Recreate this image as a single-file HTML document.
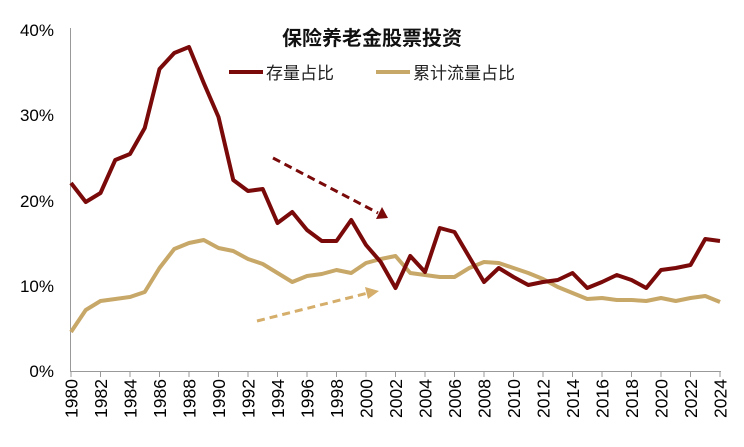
<!DOCTYPE html>
<html><head><meta charset="utf-8"><style>
body{margin:0;background:#fff}
svg{display:block}
text{font-family:"Liberation Sans","Noto Sans CJK SC",sans-serif}
</style></head><body>
<svg id="s" width="744" height="447" xmlns="http://www.w3.org/2000/svg">
<line x1="70.5" y1="28" x2="70.5" y2="371" stroke="#999" stroke-width="1"/>
<line x1="70" y1="371.5" x2="721" y2="371.5" stroke="#999" stroke-width="1"/>
<g font-size="17" fill="#000" text-anchor="end">
<text x="54" y="36">40%</text><text x="54" y="121">30%</text><text x="54" y="207">20%</text><text x="54" y="292">10%</text><text x="54" y="377">0%</text>
</g>
<text x="372" y="45" font-size="20" font-weight="bold" text-anchor="middle" fill="#111">保险养老金股票投资</text>
<line x1="229" y1="72" x2="263" y2="72" stroke="#7a0a0a" stroke-width="4"/>
<text x="266" y="79" font-size="17" fill="#222">存量占比</text>
<line x1="376" y1="72" x2="410" y2="72" stroke="#c8a868" stroke-width="4"/>
<text x="413" y="79" font-size="17" fill="#222">累计流量占比</text>
<line x1="273" y1="158" x2="378" y2="213" stroke="#7a0a0a" stroke-width="3" stroke-dasharray="8,5"/>
<polygon points="388,218 376,219 382,207" fill="#7a0a0a"/>
<line x1="257" y1="321" x2="368" y2="293" stroke="#d4ae6a" stroke-width="3" stroke-dasharray="8,5"/>
<polygon points="379,291 368,299 365,287" fill="#d4ae6a"/>
<g id="g"></g>
</svg>
<script>
var red=[183,202,193,160,154,128,69,53,47,83,117,180,191,189,223,212,230,241,241,220,245,262,288,256,272,228,232,257,282,268,277,285,282,280,273,288,282,275,280,288,270,268,265,239,241];
var gold=[332,310,301,299,297,292,268,249,243,240,248,251,259,264,273,282,276,274,270,273,263,259,256,273,275,277,277,268,262,263,268,273,279,287,293,299,298,300,300,301,298,301,298,296,302];
var ns="http://www.w3.org/2000/svg",s=document.getElementById('s'),g=document.getElementById('g');
function X(i){return 71+i*14.75}
function pl(d,c){var p=document.createElementNS(ns,'polyline');p.setAttribute('points',d.map(function(y,i){return X(i)+','+y}).join(' '));p.setAttribute('fill','none');p.setAttribute('stroke',c);p.setAttribute('stroke-width','4');p.setAttribute('stroke-linejoin','round');g.appendChild(p);}
pl(gold,'#c8a868');pl(red,'#7a0a0a');
for(var i=0;i<=44;i+=2){var x=X(i);
var t=document.createElementNS(ns,'line');t.setAttribute('x1',x);t.setAttribute('x2',x);t.setAttribute('y1',371);t.setAttribute('y2',377);t.setAttribute('stroke','#999');s.appendChild(t);
var tx=document.createElementNS(ns,'text');tx.setAttribute('transform','translate('+(x+6.5)+',379) rotate(-90)');tx.setAttribute('text-anchor','end');tx.setAttribute('font-size','17.5');tx.textContent=1980+i;s.appendChild(tx);}
</script>
</body></html>
